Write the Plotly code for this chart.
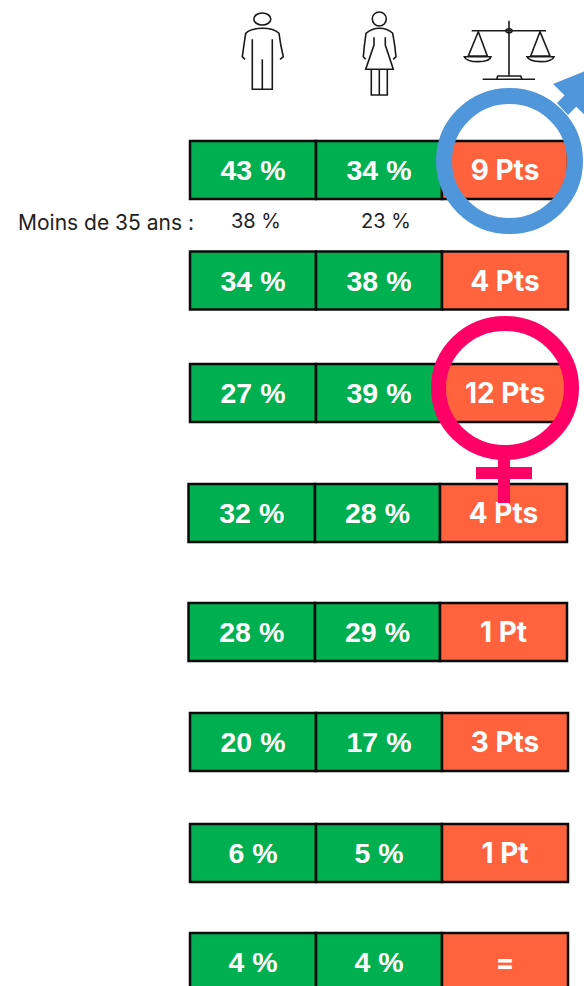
import plotly.graph_objects as go

# --- data ---
men = ["43 %", "34 %", "27 %", "32 %", "28 %", "20 %", "6 %", "4 %"]
women = ["34 %", "38 %", "39 %", "28 %", "29 %", "17 %", "5 %", "4 %"]
gap = ["9 Pts", "4 Pts", "12 Pts", "4 Pts", "1 Pt", "3 Pts", "1 Pt", "="]
under35_label = "Moins de 35 ans :"
under35_men = "38 %"
under35_women = "23 %"

# --- layout (pixels) ---
row_y = [170, 280.5, 393, 513, 632, 742, 853, 962]
col0 = [190, 190, 190, 188.5, 188.5, 190, 190, 190]
col1 = [316, 316, 316, 315, 315, 316, 316, 316]
col2 = [442, 442, 442, 440, 440, 442, 442, 442]
col3 = [568, 568, 568, 567, 567, 568, 568, 568]
ROW_H = 58
GREEN, ORANGE = "#00AF50", "#FF623D"
BLUE, PINK = "#5096DA", "#FF0066"

fig = go.Figure()


def cells(labels, left, right, color, family, size):
    fig.add_trace(go.Bar(
        orientation="h", y=row_y, base=left,
        x=[r - l for l, r in zip(left, right)],
        width=ROW_H, text=labels, textposition="inside",
        insidetextanchor="middle", constraintext="none", textangle=0,
        textfont=dict(family=family, size=size, color="white", weight="bold"),
        marker=dict(color=color, line=dict(color="#0b0b0b", width=2.5)),
        hoverinfo="skip", showlegend=False))


cells(men, col0, col1, GREEN, "Liberation Sans", 28.5)
cells(women, col1, col2, GREEN, "Liberation Sans", 28.5)
cells(gap, col2, col3, ORANGE, "Inter", 28)

fig.add_trace(go.Scatter(
    x=[256, 386], y=[223, 223], mode="text",
    text=[under35_men, under35_women],
    textfont=dict(family="Inter", size=20, color="#222222"),
    hoverinfo="skip", showlegend=False))
fig.add_annotation(x=196, y=222.5, text=under35_label, showarrow=False, xanchor="right",
                   font=dict(family="Inter", size=21, color="#222222"))


def z(x, y):  # crop coordinates of the icons -> page pixels
    return f"{200 + x / 3:.1f},{y / 3:.1f}"


def path(*cmds):
    out = []
    for c in cmds:
        if isinstance(c, str):
            out.append(c)
        else:
            out.append(z(*c))
    return " ".join(out)


icons = [
    # man
    path("M", (135, 178), "L", (127, 170), "C", (130, 150), (133, 125), (137, 100),
         "C", (150, 88), (175, 85), (187, 85), "C", (205, 85), (225, 88), (237, 100),
         "C", (240, 125), (245, 150), (250, 170), "L", (240, 178)),
    path("M", (157, 118), "L", (157, 268), "L", (217, 268), "L", (217, 118)),
    path("M", (187, 178), "L", (187, 268)),
    # woman
    path("M", (497, 178), "L", (490, 170), "C", (492, 145), (495, 120), (498, 100),
         "C", (510, 90), (525, 85), (538, 85), "C", (552, 85), (568, 90), (578, 100),
         "C", (582, 120), (586, 145), (588, 170), "L", (580, 178)),
    path("M", (522, 112), "L", (522, 135), "L", (497, 208), "L", (580, 208),
         "L", (556, 135), "L", (556, 112)),
    path("M", (514, 208), "L", (514, 285), "L", (562, 285), "L", (562, 208)),
    path("M", (538, 208), "L", (538, 285)),
    # scales
    path("M", (927, 62), "L", (927, 228)),
    path("M", (848, 238), "L", (1005, 238)),
    path("M", (890, 238), "L", (893, 228), "L", (962, 228), "L", (966, 238)),
    path("M", (815, 92), "L", (1038, 92)),
    path("M", (835, 95), "L", (805, 168), "L", (862, 168), "Z"),
    path("M", (793, 170), "C", (800, 190), (870, 190), (873, 170), "Z"),
    path("M", (1020, 95), "L", (992, 168), "L", (1050, 168), "Z"),
    path("M", (981, 170), "C", (990, 190), (1055, 190), (1062, 170), "Z"),
]
shapes = [dict(type="path", path=p, line=dict(color="#1a1a1a", width=1.6), layer="above") for p in icons]
# heads and pivot
for cx, cy, rx, ry in [(262.3, 19, 8.5, 6), (379.3, 19, 7, 7), (509, 30.7, 3, 2)]:
    shapes.append(dict(type="circle", x0=cx - rx, x1=cx + rx, y0=cy - ry, y1=cy + ry,
                       line=dict(color="#1a1a1a", width=1.6), layer="above"))

# male symbol
shapes += [
    dict(type="circle", x0=444, x1=575, y0=96, y1=226, line=dict(color=BLUE, width=16), layer="above"),
    dict(type="path", path="M 557,103 L 568,115 L 585,98 L 574,86 Z", fillcolor=BLUE,
         line=dict(width=0), layer="above"),
    dict(type="path", path="M 553,84 L 620,57 L 600,130 Z", fillcolor=BLUE,
         line=dict(width=0), layer="above"),
    # female symbol
    dict(type="circle", x0=438.5, x1=571.5, y0=323.5, y1=452.5, line=dict(color=PINK, width=15), layer="above"),
    dict(type="rect", x0=498, x1=510, y0=455, y1=503, fillcolor=PINK, line=dict(width=0), layer="above"),
    dict(type="rect", x0=476, x1=532, y0=467, y1=479, fillcolor=PINK, line=dict(width=0), layer="above"),
]

fig.update_layout(
    width=584, height=986, margin=dict(l=0, r=0, t=0, b=0), autosize=False,
    paper_bgcolor="white", plot_bgcolor="white", barmode="overlay", showlegend=False,
    xaxis=dict(range=[0, 584], visible=False, fixedrange=True),
    yaxis=dict(range=[986, 0], visible=False, fixedrange=True),
    shapes=shapes,
)
fig.write_html("out.html", config={"displayModeBar": False},
               post_script="document.body.style.margin='0';document.body.style.overflow='hidden';")
